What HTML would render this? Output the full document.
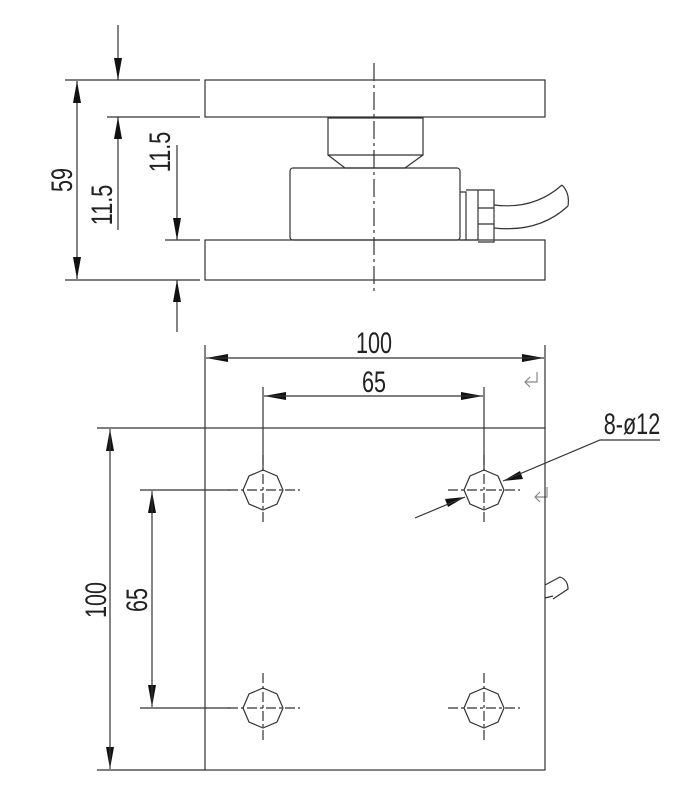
<!DOCTYPE html>
<html><head><style>body{margin:0;background:#fff}svg{display:block}text{font-family:"Liberation Sans",sans-serif;fill:#222}</style></head><body>
<svg width="688" height="800" viewBox="0 0 688 800" stroke="#333" fill="none" stroke-width="1.2">
<!-- side view -->
<rect x="205" y="80" width="340" height="37"/>
<rect x="205" y="240" width="340" height="40"/>
<path d="M328,118 h95 v37 h-95z M328,155 l17,13 h60 l18,-13"/>
<rect x="290" y="168" width="170" height="72" rx="3"/>
<path d="M460,192 h6 v48 h-6 M466,190 h12 v50 h-12 M478,190 h16 v52 h-16 M478,208 h16 M478,224 h16"/>
<path d="M494,205 q40,5 68,-20 M494,228 q45,5 74,-22 M562,185 q8,8 6,21"/>
<path d="M374,63 V295" stroke-dasharray="18,4,3,4"/>
<path d="M65,80 H200 M107,117 H200 M165,240 H200 M65,280 H200"/>
<path d="M77,81 V279 M118,25 V80 M118,117 V230 M177,145 V240 M177,280 V332"/>
<g fill="#111" stroke="none">
<!-- vertical arrows -->
<polygon points="77,81 73,103 81,103"/><polygon points="77,279 73,257 81,257"/>
<polygon points="118,80 114,58 122,58"/><polygon points="118,117 114,139 122,139"/>
<polygon points="177,240 173,218 181,218"/><polygon points="177,280 173,302 181,302"/>
<polygon points="110,429 106,451 114,451"/><polygon points="110,769 106,747 114,747"/>
<polygon points="152,491 148,513 156,513"/><polygon points="152,707 148,685 156,685"/>
<!-- horizontal -->
<polygon points="206,358 228,354 228,362"/><polygon points="544,358 522,354 522,362"/>
<polygon points="264,396 286,392 286,400"/><polygon points="483,396 461,392 461,400"/>
<!-- diagonal -->
<polygon points="465,497 445,499 448,507"/><polygon points="503,481 523,479 520,471"/>
</g>
<g stroke="none" font-size="30">
<text transform="translate(72,180) rotate(-90) scale(0.72,1)" text-anchor="middle">59</text>
<text transform="translate(112,205) rotate(-90) scale(0.72,1)" text-anchor="middle">11.5</text>
<text transform="translate(170,152) rotate(-90) scale(0.72,1)" text-anchor="middle">11.5</text>
<text transform="translate(374,353) scale(0.72,1)" text-anchor="middle">100</text>
<text transform="translate(374,392) scale(0.72,1)" text-anchor="middle">65</text>
<text transform="translate(632,434) scale(0.72,1)" text-anchor="middle">8-ø12</text>
<text transform="translate(106,600) rotate(-90) scale(0.72,1)" text-anchor="middle">100</text>
<text transform="translate(147,600) rotate(-90) scale(0.72,1)" text-anchor="middle">65</text>
</g>
<path d="M537,372 v10 h-12 M530,377 l-5,5 l5,5 M547,487 v10 h-12 M540,492 l-5,5 l5,5" stroke="#888"/>
<!-- top view -->
<rect x="205" y="428" width="340" height="342"/>
<path d="M205,345 V428 M545,345 V428 M263,387 V470 M484,387 V470"/>
<path d="M206,358 H544 M264,396 H483"/>
<path d="M97,428 H205 M97,770 H205 M140,490 H230 M140,708 H230"/>
<path d="M110,429 V769 M152,491 V707"/>
<g stroke-dasharray="10,3,3,3">
<path d="M228,490 H300 M263,455 V525 M448,490 H520 M484,455 V525 M228,708 H300 M263,673 V743 M448,708 H520 M484,673 V743"/>
</g>
<polygon points="20,0 14,14 0,20 -14,14 -20,0 -14,-14 0,-20 14,-14" transform="translate(263,490)"/>
<polygon points="20,0 14,14 0,20 -14,14 -20,0 -14,-14 0,-20 14,-14" transform="translate(484,490)"/>
<polygon points="20,0 14,14 0,20 -14,14 -20,0 -14,-14 0,-20 14,-14" transform="translate(263,708)"/>
<polygon points="20,0 14,14 0,20 -14,14 -20,0 -14,-14 0,-20 14,-14" transform="translate(484,708)"/>
<path d="M415,518 L465,497"/>
<path d="M660,440 L600,440 L503,481"/>
<path d="M545,585 l15,-8 q8,3 8,12 l-15,10 M545,598 l8,-2"/>
</svg>
</body></html>
